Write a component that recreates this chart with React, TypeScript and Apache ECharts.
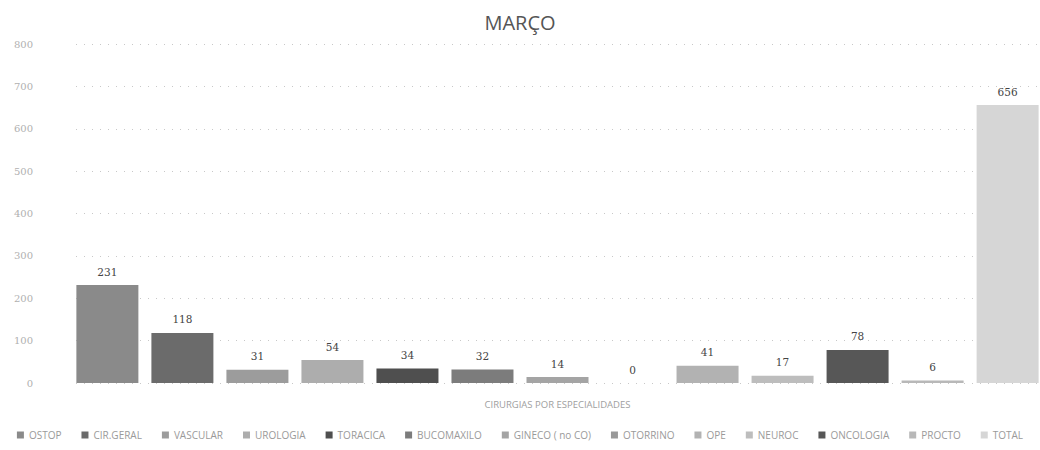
import React, { useEffect, useRef } from "react";
import * as echarts from "echarts";

const title = "MARÇO";
const category = "CIRURGIAS POR ESPECIALIDADES";
const specialties = [
  "OSTOP",
  "CIR.GERAL",
  "VASCULAR",
  "UROLOGIA",
  "TORACICA",
  "BUCOMAXILO",
  "GINECO ( no CO)",
  "OTORRINO",
  "OPE",
  "NEUROC",
  "ONCOLOGIA",
  "PROCTO",
  "TOTAL",
];
const values = [231, 118, 31, 54, 34, 32, 14, 0, 41, 17, 78, 6, 656];
const colors = [
  "#8a8a8a",
  "#6b6b6b",
  "#9c9c9c",
  "#adadad",
  "#4f4f4f",
  "#7c7c7c",
  "#a4a4a4",
  "#999999",
  "#b2b2b2",
  "#bdbdbd",
  "#575757",
  "#b8b8b8",
  "#d6d6d6",
];
const yTicks = { min: 0, max: 800, interval: 100 };

export default function App() {
  const ref = useRef<HTMLDivElement>(null);
  useEffect(() => {
    if (!ref.current) return;
    const chart = echarts.init(ref.current, undefined, { renderer: "svg" });
    chart.setOption({
      animation: false,
      backgroundColor: "#ffffff",
      title: {
        text: title,
        left: "center",
        top: 7,
        textStyle: {
          fontFamily: "Open Sans",
          fontSize: 20,
          fontWeight: "normal",
          color: "#555555",
        },
      },
      grid: { left: 76, right: 1, top: 44, bottom: 67 },
      legend: {
        bottom: 5,
        left: "center",
        itemWidth: 7,
        itemHeight: 7,
        itemGap: 20,
        icon: "rect",
        textStyle: {
          fontFamily: "Open Sans",
          fontSize: 10,
          color: "#9a9a9a",
        },
        data: specialties,
      },
      xAxis: {
        type: "category",
        data: [category],
        axisLine: { show: false },
        axisTick: { show: false },
        axisLabel: {
          margin: 16,
          fontFamily: "Open Sans",
          fontSize: 9.5,
          color: "#a0a0a0",
        },
      },
      yAxis: {
        type: "value",
        min: yTicks.min,
        max: yTicks.max,
        interval: yTicks.interval,
        axisLine: { show: false },
        axisTick: { show: false },
        axisLabel: {
          margin: 43,
          fontFamily: "DejaVu Serif",
          fontSize: 10,
          color: "#b0b0b0",
        },
        splitLine: {
          lineStyle: { color: "#c8c8c8", type: [1, 7], width: 1 },
        },
      },
      series: specialties.map((name, i) => ({
        name,
        type: "bar",
        data: [values[i]],
        barWidth: 62,
        barGap: "21%",
        itemStyle: { color: colors[i] },
        label: {
          show: true,
          position: "top",
          distance: 8,
          fontFamily: "DejaVu Serif",
          fontSize: 10.5,
          color: "#444444",
        },
      })),
    });
    return () => chart.dispose();
  }, []);
  return (
    <div
      ref={ref}
      style={{ position: "fixed", left: 0, top: 0, width: 1040, height: 450 }}
    />
  );
}
